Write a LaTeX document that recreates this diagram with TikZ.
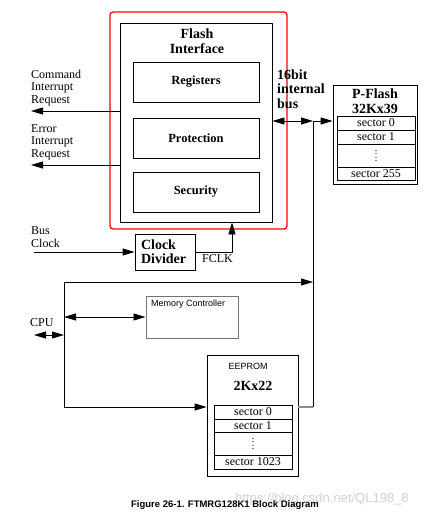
\documentclass[tikz,border=0pt]{standalone}
\usepackage{fontspec}
\setmainfont{Liberation Serif}
\setsansfont{Liberation Sans}
\usetikzlibrary{arrows.meta}

\begin{document}
\begin{tikzpicture}[x=1pt,y=-1pt,
	box/.style={draw, line width=0.8pt, inner sep=0pt},
	blk/.style={box, minimum width=126pt, minimum height=40pt, font=\bfseries\fontsize{12.5}{13}\selectfont},
	row/.style={box, minimum width=78pt, font=\fontsize{12}{12}\selectfont},
	ttl/.style={font=\bfseries\fontsize{14}{14.5}\selectfont, align=center, inner sep=0pt},
	lab/.style={font=\fontsize{12}{12.5}\selectfont, align=left, inner sep=0pt, anchor=west},
	sans/.style={font=\sffamily\fontsize{9}{9}\selectfont, inner sep=0pt},
	sig/.style={line width=0.8pt, -{Triangle[length=12pt,width=7pt]}},
	dsig/.style={line width=0.8pt, {Triangle[length=12pt,width=7pt]}-{Triangle[length=12pt,width=7pt]}}]
				\useasboundingbox (0,0) rectangle (438,519);
				
				% flash interface
				\draw[red, line width=1.3pt, rounded corners=3pt] (110,12) rectangle (287,229);
				\node[box, minimum width=152pt, minimum height=199pt] (fi) at (196,122.5) {};
				\node[ttl] (fit) at (197,41) {Flash\\Interface};
				\foreach \x/\y/\t in
				{reg/82/Registers, prot/138/Protection, sec/192/Security}{
					\node[blk] (\x) at (196,\y) {\t};
				}
				
				% clock divider
				\node[box, minimum width=60pt, minimum height=36pt, inner xsep=6pt, text width=48pt, align=left,
				font=\bfseries\fontsize{14}{14}\selectfont] (cdiv) at (165,252) {Clock\\Divider};
				
				% p-flash
				\node[box, minimum width=84pt, minimum height=99pt] (pf) at (375,134.5) {};
				\node[ttl] (pft) at (375,101) {P-Flash\\32Kx39};
				\foreach \x/\y/\h/\t in
				{pr0/123/14/sector 0, pr1/137/14/sector 1, prd/155.5/23/, pr255/173.5/13/sector 255}{
					\node[row, minimum height=\h pt] (\x) at (376,\y) {\t};
				}
				
				% memory controller
				\node[draw=black!55, line width=1pt, minimum width=92pt, minimum height=42pt] (mc) at (192,317) {};
				\node[sans, anchor=west] (mct) at (151,304) {Memory Controller};
				
				% eeprom
				\node[box, minimum width=91pt, minimum height=121pt] (ee) at (252.5,415.5) {};
				\node[sans] (eet) at (248,366) {EEPROM};
				\node[ttl] (ees) at (253,386) {2Kx22};
				\foreach \x/\y/\h/\t in
				{er0/412/14/sector 0, er1/425.5/13/sector 1, erd/443.5/23/, er1023/462/14/sector 1023}{
					\node[row, minimum height=\h pt] (\x) at (253,\y) {\t};
				}
				
				% dots in the sector tables
				\foreach \d in {-5,-1.7,1.7,5}{
					\fill ([yshift=\d pt]prd.center) circle (0.6pt);
					\fill ([yshift=\d pt]erd.center) circle (0.6pt);
				}
				
				% signal labels
				\node[lab] (cmdt) at (31,88) {Command\\Interrupt\\Request};
				\node[lab] (errt) at (31,142) {Error\\Interrupt\\Request};
				\node[lab] (bclkt) at (31,237) {Bus\\Clock};
				\node[lab] (cput) at (30,323) {CPU};
				\node[lab] (fclkt) at (202,259) {FCLK};
				\node[ttl, align=left, anchor=west] (bust) at (277,89) {16bit\\internal\\bus};
				
				\coordinate (cmd) at (31,111);
				\coordinate (err) at (31,165);
				\coordinate (bclk) at (34,252);
				\coordinate (fk) at (232,0);
				\coordinate (bt) at (313,121);
				\coordinate (bb) at (313,407);
				\coordinate (ct) at (64,282);
				\coordinate (cb) at (64,407);
				\coordinate (cpu) at (34,335);
				
				\draw[sig] (fi.west |- cmd) -- (cmd);
				\draw[sig] (fi.west |- err) -- (err);
				\draw[sig] (bclk) -- (cdiv.west);
				\draw[sig] (cdiv.east) -| (fk |- fi.south);
				
				% internal bus
				\draw[dsig] (fi.east |- bt) -- (bt);
				\draw[sig] (bt) -- (bt -| pf.west);
				\draw[line width=0.8pt] (bt) -- (bb);
				\draw[black!45, line width=1.2pt] (ee.east |- bb) -- (bb);
				
				% cpu side
				\draw[sig] (cb) -- (ct) -- (ct -| bt);
				\draw[sig] (cb) -- (cb -| ee.west);
				\draw[dsig] (cpu) -- (cpu -| ct);
				\draw[dsig] (ct |- mc.west) -- (mc.west);
				
				\node[font=\sffamily\fontsize{13}{13}\selectfont, text=black!18, inner sep=0pt] (wm) at (322,499) {https://blog.csdn.net/QL198\_8};
				\node[sans, font=\sffamily\bfseries\fontsize{9.5}{9.5}\selectfont] (cap) at (225,505) {Figure 26-1. FTMRG128K1 Block Diagram};
			\end{tikzpicture}
\end{document}
